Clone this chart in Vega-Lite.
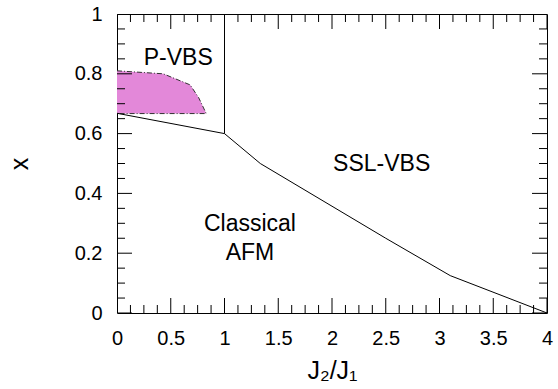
{
  "$schema": "https://vega.github.io/schema/vega-lite/v6.json",
  "width": 430,
  "height": 299,
  "autosize": {"type": "none"},
  "padding": {"left": 117, "top": 14, "right": 11, "bottom": 76},
  "background": "white",
  "config": {
    "view": {"stroke": "black", "strokeWidth": 1},
    "font": "Liberation Sans",
    "axis": {
      "grid": false,
      "domain": false,
      "ticks": false,
      "labelColor": "black",
      "titleColor": "black",
      "labelFontSize": 20,
      "titleFontSize": 25,
      "titleFontWeight": "normal",
      "labelOverlap": false,
      "labelBound": false,
      "labelFlush": false
    }
  },
  "datasets": {
    "pvbs": [
      {"i": 0, "x": 0.0, "y": 0.81},
      {"i": 1, "x": 0.43, "y": 0.8},
      {"i": 2, "x": 0.68, "y": 0.763},
      {"i": 3, "x": 0.76, "y": 0.72},
      {"i": 4, "x": 0.83, "y": 0.667},
      {"i": 5, "x": 0.0, "y": 0.667}
    ],
    "bounds": [
      {"seg": "A", "i": 0, "x": 0.0, "y": 0.668},
      {"seg": "A", "i": 1, "x": 1.0, "y": 0.6},
      {"seg": "B", "i": 0, "x": 1.0, "y": 0.6},
      {"seg": "B", "i": 1, "x": 1.0, "y": 1.0},
      {"seg": "C", "i": 0, "x": 1.0, "y": 0.6},
      {"seg": "C", "i": 1, "x": 1.333, "y": 0.5},
      {"seg": "C", "i": 2, "x": 2.5, "y": 0.25},
      {"seg": "C", "i": 3, "x": 3.1, "y": 0.125},
      {"seg": "C", "i": 4, "x": 4.0, "y": 0.0}
    ],
    "labels": [
      {"t": "P-VBS", "x": 0.57, "y": 0.852},
      {"t": "SSL-VBS", "x": 2.462, "y": 0.498},
      {"t": "Classical", "x": 1.237, "y": 0.297},
      {"t": "AFM", "x": 1.237, "y": 0.202}
    ],
    "xticks": [
      {"v": 0, "k": "major"}, {"v": 0.125, "k": "minor"}, {"v": 0.25, "k": "minor"}, {"v": 0.375, "k": "minor"},
      {"v": 0.5, "k": "major"}, {"v": 0.625, "k": "minor"}, {"v": 0.75, "k": "minor"}, {"v": 0.875, "k": "minor"},
      {"v": 1, "k": "major"}, {"v": 1.125, "k": "minor"}, {"v": 1.25, "k": "minor"}, {"v": 1.375, "k": "minor"},
      {"v": 1.5, "k": "major"}, {"v": 1.625, "k": "minor"}, {"v": 1.75, "k": "minor"}, {"v": 1.875, "k": "minor"},
      {"v": 2, "k": "major"}, {"v": 2.125, "k": "minor"}, {"v": 2.25, "k": "minor"}, {"v": 2.375, "k": "minor"},
      {"v": 2.5, "k": "major"}, {"v": 2.625, "k": "minor"}, {"v": 2.75, "k": "minor"}, {"v": 2.875, "k": "minor"},
      {"v": 3, "k": "major"}, {"v": 3.125, "k": "minor"}, {"v": 3.25, "k": "minor"}, {"v": 3.375, "k": "minor"},
      {"v": 3.5, "k": "major"}, {"v": 3.625, "k": "minor"}, {"v": 3.75, "k": "minor"}, {"v": 3.875, "k": "minor"},
      {"v": 4, "k": "major"}
    ],
    "yticks": [
      {"v": 0, "k": "major"}, {"v": 0.05, "k": "minor"}, {"v": 0.1, "k": "minor"}, {"v": 0.15, "k": "minor"},
      {"v": 0.2, "k": "major"}, {"v": 0.25, "k": "minor"}, {"v": 0.3, "k": "minor"}, {"v": 0.35, "k": "minor"},
      {"v": 0.4, "k": "major"}, {"v": 0.45, "k": "minor"}, {"v": 0.5, "k": "minor"}, {"v": 0.55, "k": "minor"},
      {"v": 0.6, "k": "major"}, {"v": 0.65, "k": "minor"}, {"v": 0.7, "k": "minor"}, {"v": 0.75, "k": "minor"},
      {"v": 0.8, "k": "major"}, {"v": 0.85, "k": "minor"}, {"v": 0.9, "k": "minor"}, {"v": 0.95, "k": "minor"},
      {"v": 1, "k": "major"}
    ]
  },
  "layer": [
    {
      "data": {"name": "pvbs"},
      "transform": [{"filter": "datum.i < 5"}],
      "mark": {"type": "area", "color": "#e388d9", "opacity": 1},
      "encoding": {
        "x": {
          "field": "x", "type": "quantitative",
          "scale": {"domain": [0, 4], "nice": false, "zero": false},
          "axis": {
            "orient": "bottom",
            "title": "J₂/J₁",
            "titlePadding": 10,
            "values": [0, 0.5, 1, 1.5, 2, 2.5, 3, 3.5, 4],
            "labelExpr": "'' + datum.value",
            "labelPadding": 15
          }
        },
        "y": {
          "field": "y", "type": "quantitative",
          "scale": {"domain": [0, 1], "nice": false, "zero": false},
          "axis": {
            "orient": "left",
            "title": "x",
            "titlePadding": 42,
            "values": [0, 0.2, 0.4, 0.6, 0.8, 1],
            "labelExpr": "'' + datum.value",
            "labelPadding": 15
          }
        },
        "y2": {"datum": 0.667}
      }
    },
    {
      "data": {"name": "pvbs"},
      "mark": {"type": "line", "color": "#333333", "strokeWidth": 1, "strokeDash": [5, 2, 1, 2]},
      "encoding": {
        "x": {"field": "x", "type": "quantitative"},
        "y": {"field": "y", "type": "quantitative"},
        "order": {"field": "i", "type": "quantitative"}
      }
    },
    {
      "data": {"name": "bounds"},
      "mark": {"type": "line", "color": "black", "strokeWidth": 1},
      "encoding": {
        "x": {"field": "x", "type": "quantitative"},
        "y": {"field": "y", "type": "quantitative"},
        "detail": {"field": "seg"},
        "order": {"field": "i", "type": "quantitative"}
      }
    },
    {
      "data": {"name": "labels"},
      "mark": {"type": "text", "fontSize": 23, "font": "Liberation Sans", "color": "black", "align": "center", "baseline": "middle"},
      "encoding": {
        "x": {"field": "x", "type": "quantitative"},
        "y": {"field": "y", "type": "quantitative"},
        "text": {"field": "t"}
      }
    },
    {
      "data": {"name": "xticks"},
      "mark": {"type": "point", "shape": "M0,-1L0,1", "filled": false, "clip": true, "stroke": "black", "strokeWidth": 1, "opacity": 1},
      "encoding": {
        "x": {"field": "v", "type": "quantitative"},
        "y": {"datum": 0},
        "size": {"field": "k", "type": "ordinal", "scale": {"domain": ["major", "minor"], "range": [900, 256]}, "legend": null}
      }
    },
    {
      "data": {"name": "xticks"},
      "mark": {"type": "point", "shape": "M0,-1L0,1", "filled": false, "clip": true, "stroke": "black", "strokeWidth": 1, "opacity": 1},
      "encoding": {
        "x": {"field": "v", "type": "quantitative"},
        "y": {"datum": 1},
        "size": {"field": "k", "type": "ordinal", "scale": {"domain": ["major", "minor"], "range": [900, 256]}, "legend": null}
      }
    },
    {
      "data": {"name": "yticks"},
      "mark": {"type": "point", "shape": "M-1,0L1,0", "filled": false, "clip": true, "stroke": "black", "strokeWidth": 1, "opacity": 1},
      "encoding": {
        "y": {"field": "v", "type": "quantitative"},
        "x": {"datum": 0},
        "size": {"field": "k", "type": "ordinal", "scale": {"domain": ["major", "minor"], "range": [900, 256]}, "legend": null}
      }
    },
    {
      "data": {"name": "yticks"},
      "mark": {"type": "point", "shape": "M-1,0L1,0", "filled": false, "clip": true, "stroke": "black", "strokeWidth": 1, "opacity": 1},
      "encoding": {
        "y": {"field": "v", "type": "quantitative"},
        "x": {"datum": 4},
        "size": {"field": "k", "type": "ordinal", "scale": {"domain": ["major", "minor"], "range": [900, 256]}, "legend": null}
      }
    }
  ]
}
